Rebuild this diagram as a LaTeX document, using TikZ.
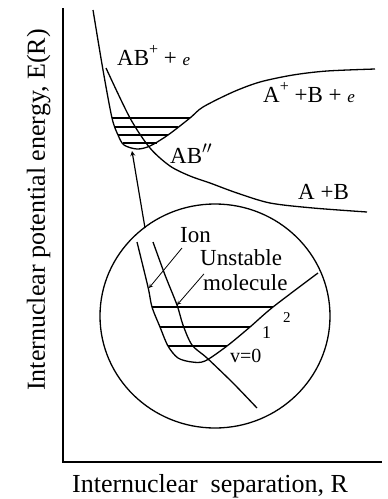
\documentclass[tikz,border=0pt]{standalone}
\usepackage{fontspec}
\setmainfont{Liberation Serif}
\newcommand{\elecsym}{{\fontsize{17}{17}\selectfont\itshape e}}
\newcommand{\supplus}{\raisebox{1.0ex}{\fontsize{16}{16}\selectfont +}}
\begin{document}
\begin{tikzpicture}[x=1pt,y=-1pt,>=stealth,
  curve/.style={line width=1.3pt},
  lvl/.style={line width=1.2pt},
  pointer/.style={->,line width=0.8pt},
  lbl/.style={inner sep=0pt,anchor=base west,font=\fontsize{23}{26}\selectfont},
  axlbl/.style={inner sep=0pt,anchor=base,font=\fontsize{26}{28}\selectfont}]
\useasboundingbox (0,0) rectangle (388,499);
% axes
\draw[line width=1.6pt] (63,8) -- (63,462) -- (382,462);
\node[axlbl,rotate=90] (ylab) at (45,210) {Internuclear potential energy, E(R)};
\node[axlbl] (xlab) at (210,492) {Internuclear\ \ separation, R};
% upper curves: AB+ and AB''
\draw[curve] plot[smooth,tension=0.5] coordinates {(93,10) (103,70) (112,118) (118,135) (124,145) (137,149) (150,146) (168,135) (190,118) (203,107) (233,92) (260,82) (293,75) (327,71) (375,69)};
\draw[curve] plot[smooth,tension=0.5] coordinates {(106,68) (130,118) (150,148) (170,166) (190,176) (210,183) (237,193) (270,203) (313,208) (367,212)};
\foreach \y/\xa/\xb in {118/112/190, 127/115/178, 135/118/168, 143/123/157}
  \draw[lvl] (\xa,\y) -- (\xb,\y);
\node[lbl] (abion) at (117,65) {AB\supplus\ + \elecsym};
\node[lbl] (aplus) at (263,102) {A\supplus\ +B + \elecsym};
\node[lbl] (abdd) at (170,163) {AB$''$};
\node[lbl] (ab) at (298,199) {A +B};
% excitation arrow
\coordinate (exfoot) at (145,228);
\coordinate (extop) at (132,151);
\draw[pointer,line width=1.2pt] (exfoot) -- (extop);
% magnified circle
\draw[curve] (215,316) ellipse [x radius=115, y radius=112];
\draw[curve] plot[smooth,tension=0.5] coordinates {(137,242) (148,287) (152,307) (160,327) (168,346) (178,358) (192,362) (205,361) (227,346) (250,327) (273,307) (318,273)};
\draw[curve] plot[smooth,tension=0.5] coordinates {(153,242) (165,275) (177,305) (183,325) (192,345) (207,358) (233,383) (257,408)};
\foreach \y/\xa/\xb in {307/152/273, 327/160/250, 346/168/227}
  \draw[lvl] (\xa,\y) -- (\xb,\y);
\node[lbl] (ion) at (180,242) {Ion};
\node[lbl] (unstable) at (200,265) {Unstable};
\node[lbl] (molecule) at (203,290) {molecule};
\node[lbl,font=\fontsize{15}{15}\selectfont] (v2) at (283,322) {2};
\node[lbl,font=\fontsize{18}{18}\selectfont] (v1) at (262,338) {1};
\node[lbl,font=\fontsize{20}{20}\selectfont] (v0) at (230,362) {v=0};
\coordinate (ionpt) at (149,288);
\coordinate (molpt) at (177,305);
\draw[pointer] ([xshift=2pt,yshift=-6pt]ion.base west) -- (ionpt);
\draw[pointer] ([xshift=1pt]molecule.north west) -- (molpt);
\end{tikzpicture}
\end{document}
